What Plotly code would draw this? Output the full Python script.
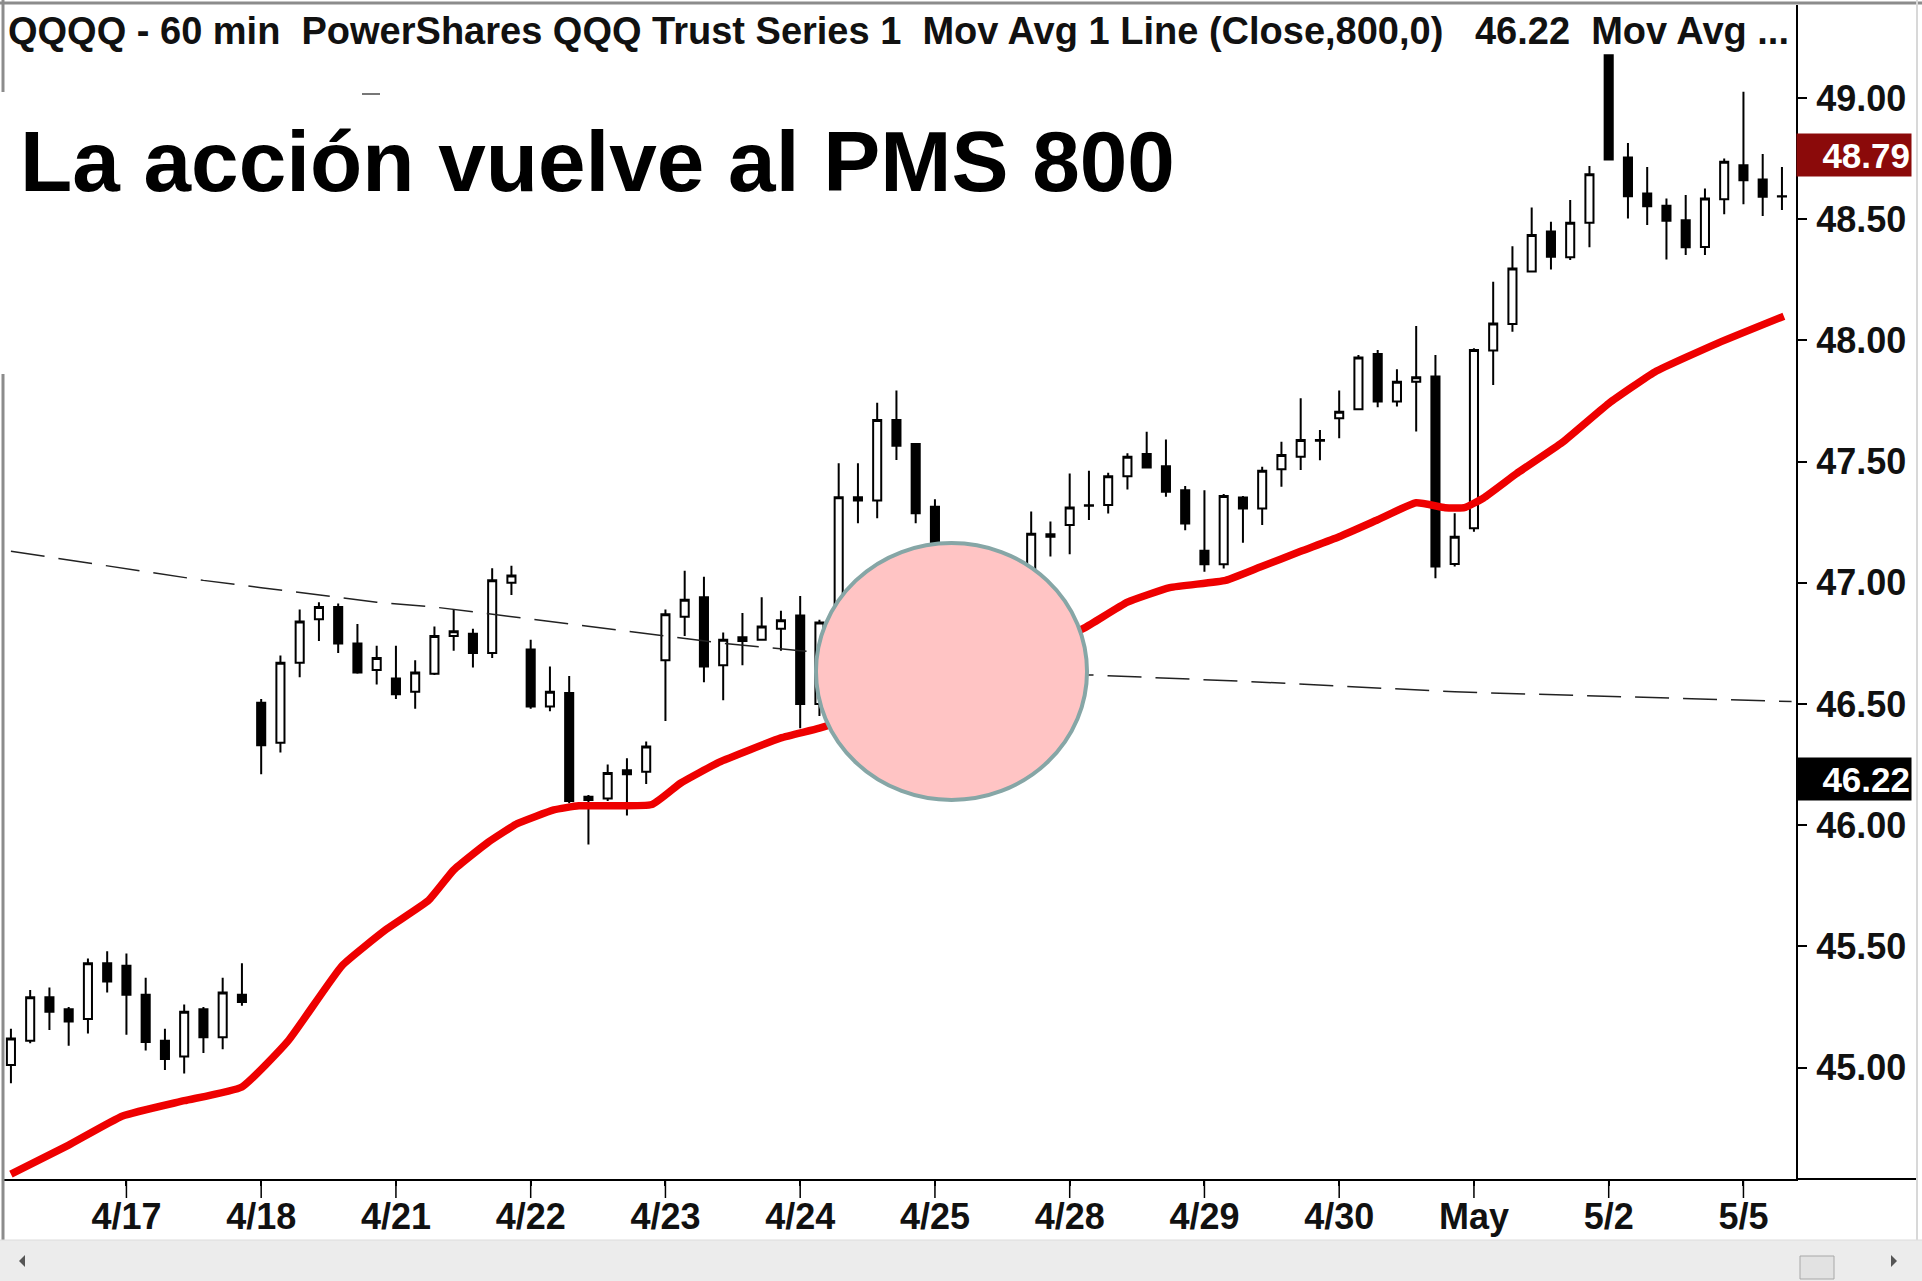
import plotly.graph_objects as go

# ---------------- data ----------------
bar_index = list(range(93))
opens = [45.01, 45.11, 45.29, 45.24, 45.20, 45.43, 45.42, 45.30, 45.11, 45.045, 45.24, 45.125, 45.30,
         46.505, 46.34, 46.67, 46.85, 46.90, 46.75, 46.64,
         46.605, 46.55, 46.625, 46.78, 46.79, 46.71, 47.00,
         46.725, 46.49, 46.545, 46.117, 46.11, 46.227, 46.22,
         46.68, 46.86, 46.94, 46.66, 46.775, 46.765, 46.81,
         46.865, 46.50, 46.84, 47.353, 47.34, 47.672, 47.573,
         47.314, 47.00, 46.85, 46.90, 46.95, 47.05, 47.20,
         47.238, 47.32, 47.321, 47.44, 47.531, 47.481, 47.382,
         47.132, 47.077, 47.352, 47.307, 47.468, 47.52, 47.589,
         47.679, 47.716, 47.944, 47.748, 47.83, 47.851, 47.078,
         47.225, 47.958, 48.068, 48.284, 48.449, 48.343, 48.486,
         49.177, 48.755, 48.606, 48.556, 48.496, 48.386, 48.582,
         48.723, 48.664, 48.595]
highs = [45.16, 45.32, 45.33, 45.25, 45.45, 45.48, 45.47, 45.37, 45.16, 45.26, 45.25, 45.37, 45.43,
         46.52, 46.70, 46.89, 46.92, 46.915, 46.83, 46.74,
         46.74, 46.68, 46.82, 46.89, 46.81, 47.06, 47.07,
         46.765, 46.655, 46.615, 46.124, 46.25, 46.276, 46.345,
         46.89, 47.05, 47.025, 46.795, 46.875, 46.94, 46.885,
         46.945, 46.847, 47.493, 47.493, 47.743, 47.793, 47.575,
         47.345, 47.05, 46.95, 47.00, 47.10, 47.294, 47.253,
         47.451, 47.462, 47.454, 47.534, 47.623, 47.591, 47.399,
         47.382, 47.366, 47.358, 47.479, 47.582, 47.761, 47.63,
         47.793, 47.94, 47.961, 47.881, 48.06, 47.94, 47.287,
         47.968, 48.242, 48.389, 48.548, 48.49, 48.579, 48.72,
         49.181, 48.815, 48.716, 48.586, 48.60, 48.627, 48.751,
         49.026, 48.769, 48.716]
lows = [44.935, 45.10, 45.155, 45.09, 45.14, 45.31, 45.135, 45.07, 44.99, 44.975, 45.06, 45.075, 45.255,
        46.21, 46.30, 46.61, 46.76, 46.71, 46.625, 46.58,
        46.52, 46.48, 46.62, 46.72, 46.65, 46.69, 46.95,
        46.48, 46.47, 46.09, 45.92, 46.10, 46.04, 46.17,
        46.43, 46.78, 46.59, 46.515, 46.66, 46.765, 46.72,
        46.40, 46.45, 46.80, 47.246, 47.266, 47.507, 47.246,
        46.95, 46.80, 46.75, 46.82, 46.90, 47.00, 47.108,
        47.118, 47.259, 47.286, 47.385, 47.476, 47.355, 47.217,
        47.046, 47.059, 47.165, 47.238, 47.396, 47.465, 47.506,
        47.596, 47.713, 47.724, 47.727, 47.624, 47.019, 47.067,
        47.211, 47.816, 48.036, 48.284, 48.293, 48.332, 48.384,
        48.744, 48.503, 48.476, 48.334, 48.352, 48.352, 48.521,
        48.562, 48.513, 48.538]
closes = [45.12, 45.29, 45.23, 45.19, 45.43, 45.355, 45.30, 45.105, 45.035, 45.23, 45.125, 45.31, 45.27,
          46.33, 46.67, 46.84, 46.90, 46.75, 46.63, 46.69,
          46.54, 46.63, 46.78, 46.80, 46.71, 47.01, 47.03,
          46.49, 46.55, 46.10, 46.104, 46.215, 46.21, 46.325,
          46.87, 46.93, 46.655, 46.765, 46.76, 46.82, 46.845,
          46.50, 46.836, 47.353, 47.34, 47.672, 47.565, 47.287,
          47.00, 46.85, 46.90, 46.95, 47.05, 47.202, 47.19,
          47.311, 47.318, 47.44, 47.52, 47.476, 47.376, 47.245,
          47.077, 47.358, 47.307, 47.462, 47.527, 47.589, 47.586,
          47.706, 47.93, 47.748, 47.83, 47.848, 47.067, 47.19,
          47.961, 48.07, 48.297, 48.435, 48.345, 48.486, 48.686,
          48.747, 48.595, 48.554, 48.494, 48.384, 48.586, 48.737,
          48.661, 48.593, 48.594]

# Mov Avg (red, thick) – read points
ma_red_x = [0, 3, 5.8, 9, 12, 14.4, 17.2, 19.5, 21.7, 23, 24.8, 26.3, 28.2, 29.5, 33.3, 34.8, 36.8, 40,
            42, 45, 49, 53, 55.8, 58, 60.2, 63.1, 64.9, 67, 69, 71, 73, 74.5, 75.5, 76.5, 78.2, 80.6,
            83, 85.4, 88.7, 92.1]
ma_red_y = [44.56, 44.68, 44.80, 44.863, 44.92, 45.11, 45.42, 45.57, 45.69, 45.815, 45.93, 46.006,
            46.063, 46.08, 46.085, 46.174, 46.26, 46.36, 46.40, 46.48, 46.60, 46.71, 46.815, 46.92,
            46.98, 47.01, 47.065, 47.13, 47.19, 47.26, 47.33, 47.31, 47.31, 47.35, 47.45, 47.58,
            47.74, 47.87, 47.99, 48.10]

# Mov Avg (dashed, thin) – read points
ma_dash_x = [0, 5, 10, 13, 16, 19, 22, 25, 28, 31, 34, 37, 41, 48, 56, 65, 75, 84, 92.5]
ma_dash_y = [47.13, 47.07, 47.01, 46.98, 46.95, 46.92, 46.90, 46.87, 46.84, 46.81, 46.78, 46.75,
             46.72, 46.67, 46.62, 46.59, 46.55, 46.53, 46.51]

day_start_idx = [6, 13, 20, 27, 34, 41, 48, 55, 62, 69, 76, 83, 90]
day_labels = ["4/17", "4/18", "4/21", "4/22", "4/23", "4/24", "4/25", "4/28", "4/29", "4/30",
              "May", "5/2", "5/5"]
price_ticks = [45.0, 45.5, 46.0, 46.5, 47.0, 47.5, 48.0, 48.5, 49.0]

header_text = ("QQQQ - 60 min\u00a0\u00a0PowerShares QQQ Trust Series 1\u00a0\u00a0Mov Avg 1 Line "
               "(Close,800,0)\u00a0\u00a0\u00a046.22\u00a0\u00a0Mov Avg ...")
title_text = "La acción vuelve al PMS 800"
last_labels = [("48.79", 48.765, "#8B0A0A"), ("46.22", 46.19, "#000000")]

# ---------------- layout geometry (pixels) ----------------
W, H = 1922, 1281
L, R, T, B = 4, 126, 5, 102
PW, PH = W - L - R, H - T - B


def px(x):
    return (x - L) / PW


def py(y):
    return (H - B - y) / PH


FONT = "Liberation Sans, Arial, sans-serif"

fig = go.Figure()

fig.add_trace(go.Scatter(x=ma_dash_x, y=ma_dash_y, mode="lines",
                         line=dict(color="#222222", width=1.5, dash="34px,14px"),
                         hoverinfo="skip", showlegend=False))

fig.add_trace(go.Candlestick(
    x=bar_index, open=opens, high=highs, low=lows, close=closes,
    increasing=dict(fillcolor="white", line=dict(color="black", width=2)),
    decreasing=dict(fillcolor="black", line=dict(color="black", width=2)),
    whiskerwidth=0, showlegend=False))

fig.add_trace(go.Scatter(x=ma_red_x, y=ma_red_y, mode="lines",
                         line=dict(color="#EE0000", width=7.5, shape="spline", smoothing=0.4),
                         hoverinfo="skip", showlegend=False))

shapes = []
# long x-axis tick marks at day starts
for xi in day_start_idx:
    shapes.append(dict(type="line", xref="x", yref="paper", x0=xi, x1=xi, y0=0, y1=py(1198),
                       line=dict(color="black", width=1.5)))
# circle highlight (data coords)
shapes.append(dict(type="circle", xref="x", yref="y", x0=41.82, x1=55.9, y0=46.104, y1=47.164,
                   fillcolor="#FFC4C4", line=dict(color="#86A6A6", width=4), layer="above"))
# frame lines
shapes.append(dict(type="line", xref="paper", yref="paper", x0=px(0), x1=px(W), y0=py(3), y1=py(3),
                   line=dict(color="#8C8C8C", width=3)))
shapes.append(dict(type="line", xref="paper", yref="paper", x0=px(3), x1=px(3), y0=py(0), y1=py(92),
                   line=dict(color="#8C8C8C", width=3)))
shapes.append(dict(type="line", xref="paper", yref="paper", x0=px(3), x1=px(3), y0=py(374), y1=py(1240),
                   line=dict(color="#8C8C8C", width=3)))
shapes.append(dict(type="line", xref="paper", yref="paper", x0=px(362), x1=px(380), y0=py(94), y1=py(94),
                   line=dict(color="#777777", width=2)))
shapes.append(dict(type="line", xref="paper", yref="paper", x0=1, x1=px(1916), y0=0, y1=0,
                   line=dict(color="black", width=2)))
shapes.append(dict(type="line", xref="paper", yref="paper", x0=px(1917), x1=px(1917), y0=py(0), y1=py(1240),
                   line=dict(color="#D8D8D8", width=2)))
# scrollbar
shapes.append(dict(type="rect", xref="paper", yref="paper", x0=px(0), x1=px(W), y0=py(1240), y1=py(H),
                   fillcolor="#ECECEC", line=dict(width=0), layer="above"))
shapes.append(dict(type="line", xref="paper", yref="paper", x0=px(0), x1=px(W), y0=py(1240), y1=py(1240),
                   line=dict(color="#DCDCDC", width=1)))
shapes.append(dict(type="rect", xref="paper", yref="paper", x0=px(1800), x1=px(1834), y0=py(1256), y1=py(1279),
                   fillcolor="#E2E2E2", line=dict(color="#A8A8A8", width=1)))
shapes.append(dict(type="path", xref="paper", yref="paper",
                   path=f"M {px(19)} {py(1261)} L {px(25)} {py(1255)} L {px(25)} {py(1267)} Z",
                   fillcolor="#555555", line=dict(width=0)))
shapes.append(dict(type="path", xref="paper", yref="paper",
                   path=f"M {px(1897)} {py(1261)} L {px(1891)} {py(1255)} L {px(1891)} {py(1267)} Z",
                   fillcolor="#555555", line=dict(width=0)))

annotations = [
    dict(text=header_text, xref="paper", yref="paper", x=px(6), y=py(31), xanchor="left", yanchor="middle",
         showarrow=False, font=dict(family=FONT, size=38, color="#111111", weight="bold")),
    dict(text=title_text, xref="paper", yref="paper", x=px(18), y=py(161), xanchor="left", yanchor="middle",
         showarrow=False, font=dict(family=FONT, size=85.5, color="black", weight="bold")),
]
for txt, yv, col in last_labels:
    annotations.append(dict(text=txt, xref="paper", yref="y", x=1.0, y=yv, xanchor="left", yanchor="middle",
                            showarrow=False, bgcolor=col, width=112, height=40, align="right",
                            font=dict(family=FONT, size=35, color="white", weight="bold")))

fig.update_layout(
    width=W, height=H,
    margin=dict(l=L, r=R, t=T, b=B, pad=0),
    paper_bgcolor="white", plot_bgcolor="white",
    boxgap=0.4,
    showlegend=False,
    shapes=shapes, annotations=annotations,
    xaxis=dict(range=[-0.36, 92.73], tickmode="array", tickvals=day_start_idx, ticktext=day_labels,
               showgrid=False, zeroline=False, showline=True, linecolor="black", linewidth=2,
               ticks="outside", ticklen=5, tickwidth=1.5, tickcolor="black",
               tickfont=dict(family=FONT, size=36, color="#111111", weight="bold"),
               rangeslider=dict(visible=False), fixedrange=True),
    yaxis=dict(range=[44.54, 49.384], side="right", tickmode="array", tickvals=price_ticks,
               tickformat=".2f", showgrid=False, zeroline=False, showline=True, linecolor="black",
               linewidth=2, ticks="outside", ticklen=9, tickwidth=2, tickcolor="black",
               ticklabelstandoff=2,
               tickfont=dict(family=FONT, size=36, color="#111111", weight="bold"), fixedrange=True),
)

fig.write_html("out.html", config={"displayModeBar": False},
               post_script="document.body.style.margin='0';document.body.style.overflow='hidden';")
